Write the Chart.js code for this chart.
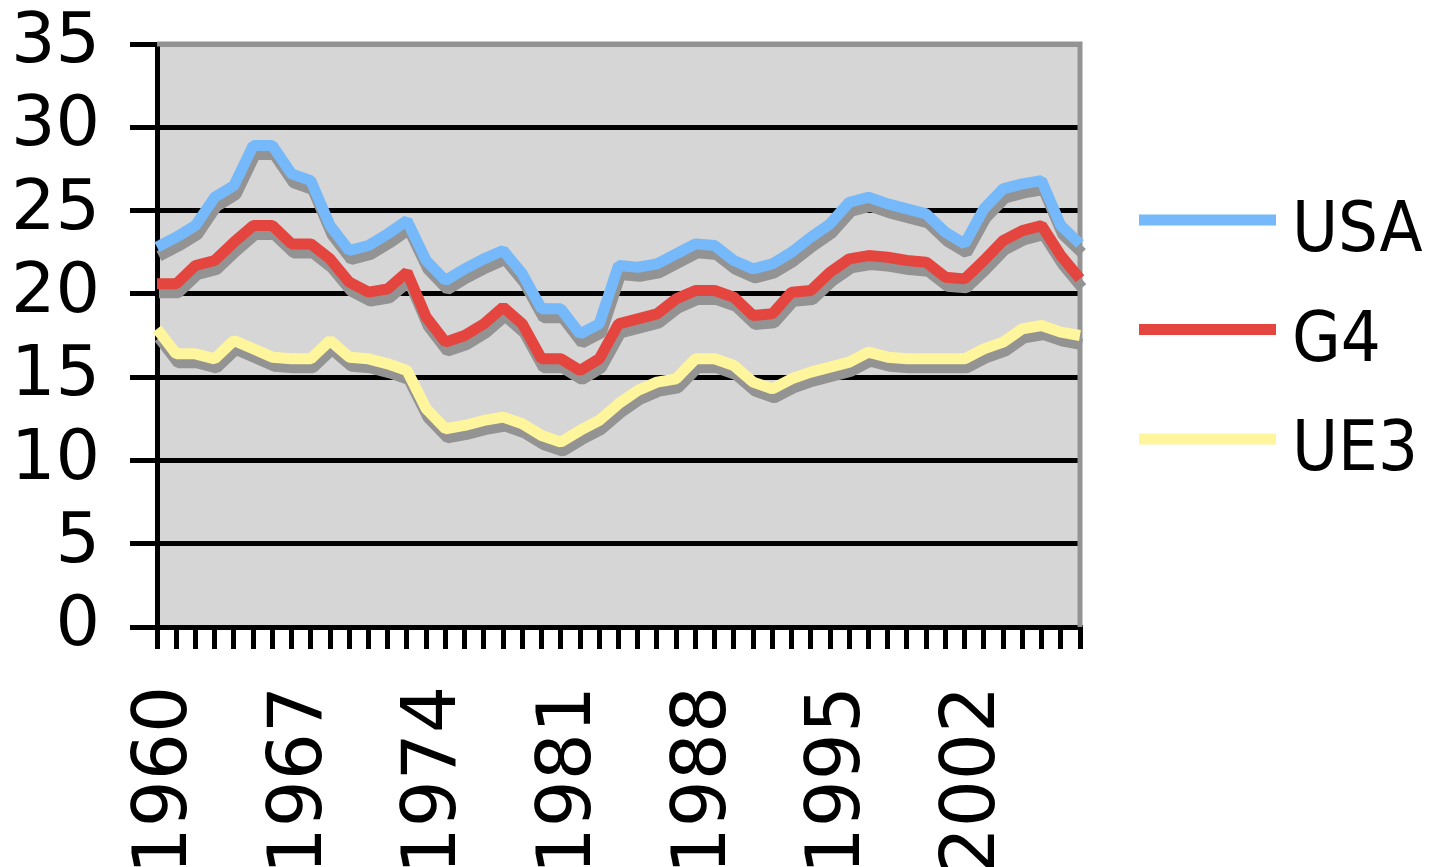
<!DOCTYPE html>
<html>
<head>
<meta charset="utf-8">
<script src="https://cdn.jsdelivr.net/npm/chart.js@4/dist/chart.umd.min.js"></script>
<style>
  body { margin: 0; background: #fff; }
</style>
</head>
<body>
<canvas id="lineChart" width="1429" height="867"></canvas>
<script>
const years = ["1960", "1961", "1962", "1963", "1964", "1965", "1966", "1967", "1968", "1969",
    "1970", "1971", "1972", "1973", "1974", "1975", "1976", "1977", "1978", "1979",
    "1980", "1981", "1982", "1983", "1984", "1985", "1986", "1987", "1988", "1989",
    "1990", "1991", "1992", "1993", "1994", "1995", "1996", "1997", "1998", "1999",
    "2000", "2001", "2002", "2003", "2004", "2005", "2006", "2007", "2008"];

const usa = [22.8, 23.4, 24.1, 25.8, 26.5, 28.9, 28.9, 27.2, 26.8, 24.1,
    22.6, 22.9, 23.6, 24.4, 22.0, 20.8, 21.5, 22.1, 22.6, 21.2,
    19.1, 19.1, 17.6, 18.2, 21.7, 21.6, 21.8, 22.4, 23.0, 22.9,
    22.0, 21.5, 21.8, 22.5, 23.4, 24.2, 25.5, 25.8, 25.4, 25.1,
    24.8, 23.7, 23.0, 25.1, 26.3, 26.6, 26.8, 24.1, 23.0];

const g4 = [20.6, 20.6, 21.7, 22.0, 23.1, 24.1, 24.1, 23.0, 23.0, 22.1,
    20.7, 20.1, 20.3, 21.3, 18.6, 17.1, 17.5, 18.2, 19.2, 18.2,
    16.1, 16.1, 15.4, 16.1, 18.2, 18.5, 18.8, 19.7, 20.2, 20.2,
    19.8, 18.7, 18.8, 20.1, 20.2, 21.3, 22.1, 22.3, 22.2, 22.0,
    21.9, 21.0, 20.9, 22.0, 23.2, 23.8, 24.1, 22.3, 20.9];

const ue3 = [17.9, 16.4, 16.4, 16.1, 17.2, 16.7, 16.2, 16.1, 16.1, 17.2,
    16.2, 16.1, 15.8, 15.4, 13.1, 11.9, 12.1, 12.4, 12.6, 12.2,
    11.5, 11.1, 11.8, 12.4, 13.4, 14.2, 14.7, 14.9, 16.1, 16.1,
    15.7, 14.7, 14.3, 14.9, 15.3, 15.6, 15.9, 16.5, 16.2, 16.1,
    16.1, 16.1, 16.1, 16.7, 17.1, 17.9, 18.1, 17.7, 17.5];

const seriesNames = ["USA", "G4", "UE3"];
const yTicks = [0, 5, 10, 15, 20, 25, 30, 35];

// grey plot area with a grey frame on top and right
const plotFrame = {
    id: "plotFrame",
    beforeDraw(chart) {
        const { ctx, chartArea: a } = chart;
        ctx.save();
        ctx.fillStyle = "#d6d6d6";
        ctx.fillRect(a.left, a.top, a.right - a.left, a.bottom - a.top);
        ctx.restore();
    },
    beforeDatasetsDraw(chart) {
        const { ctx, chartArea: a } = chart;
        ctx.save();
        ctx.strokeStyle = "#939393";
        ctx.lineWidth = 5;
        ctx.beginPath();
        ctx.moveTo(a.left, a.top);
        ctx.lineTo(a.right, a.top);
        ctx.lineTo(a.right, a.bottom);
        ctx.stroke();
        ctx.restore();
    }
};

// hard grey drop shadow under each line
const lineShadow = {
    id: "lineShadow",
    beforeDatasetDraw(chart) {
        const ctx = chart.ctx;
        ctx.save();
        ctx.shadowColor = "#939393";
        ctx.shadowOffsetX = 2;
        ctx.shadowOffsetY = 9;
        ctx.shadowBlur = 0;
    },
    afterDatasetDraw(chart) {
        chart.ctx.restore();
    }
};

// legend on the right, line swatch + label
const sideLegend = {
    id: "sideLegend",
    afterDraw(chart) {
        const { ctx, chartArea: a } = chart;
        ctx.save();
        chart.data.datasets.forEach((ds, i) => {
            const y = 220 + i * 109.5;
            ctx.fillStyle = ds.borderColor;
            ctx.fillRect(a.right + 59, y - 5.5, 137, 11);
            ctx.fillStyle = "#000";
            ctx.font = "70px 'DejaVu Sans Condensed', 'DejaVu Sans'";
            ctx.textBaseline = "alphabetic";
            ctx.fillText(ds.label, a.right + 212, y + 31);
        });
        ctx.restore();
    }
};

function makeSet(label, values, color) {
    return {
        label: label,
        data: values,
        borderColor: color,
        backgroundColor: color,
        borderWidth: 11,
        borderJoinStyle: "bevel",
        pointRadius: 0,
        tension: 0,
        clip: false
    };
}

new Chart(document.getElementById("lineChart"), {
    type: "line",
    data: {
        labels: years,
        datasets: [
            makeSet(seriesNames[0], usa, "#75b9fb"),
            makeSet(seriesNames[1], g4, "#e4463f"),
            makeSet(seriesNames[2], ue3, "#fff59c")
        ]
    },
    options: {
        responsive: false,
        animation: false,
        layout: { padding: { top: 44, right: 349, left: 0, bottom: 0 } },
        plugins: {
            legend: { display: false },
            tooltip: { enabled: false }
        },
        scales: {
            x: {
                offset: false,
                grid: {
                    drawOnChartArea: false,
                    drawTicks: true,
                    tickLength: 22,
                    lineWidth: 5,
                    color: "#000"
                },
                border: { color: "#000", width: 5 },
                ticks: {
                    autoSkip: false,
                    minRotation: 90,
                    maxRotation: 90,
                    padding: 37,
                    labelOffset: 10,
                    color: "#000",
                    font: { family: "'DejaVu Sans'", size: 74, lineHeight: 1 },
                    callback: function (value, index) {
                        return index % 7 === 0 ? years[index] : "";
                    }
                },
                afterFit: function (scale) {
                    scale.height = 240;
                    scale.paddingLeft = 0;
                    scale.paddingRight = 0;
                }
            },
            y: {
                min: 0,
                max: 35,
                afterBuildTicks: function (scale) {
                    scale.ticks = yTicks.map(v => ({ value: v }));
                },
                grid: {
                    lineWidth: 5,
                    tickLength: 27,
                    tickColor: "#000",
                    color: ctx => (ctx.tick && ctx.tick.value === 35 ? "#939393" : "#000")
                },
                border: { color: "#000", width: 5 },
                ticks: {
                    padding: 30,
                    color: "#000",
                    font: { family: "'DejaVu Sans'", size: 70, lineHeight: 1 }
                },
                afterFit: function (scale) {
                    scale.width = 157;
                    scale.paddingTop = 0;
                    scale.paddingBottom = 0;
                }
            }
        }
    },
    plugins: [plotFrame, lineShadow, sideLegend]
});
</script>
</body>
</html>
